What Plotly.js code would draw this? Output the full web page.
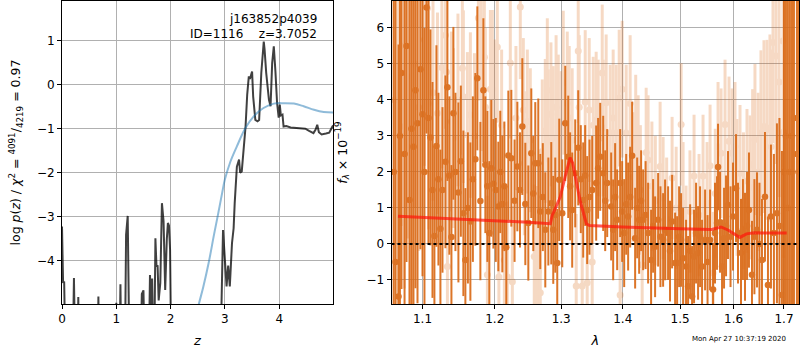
<!DOCTYPE html>
<html>
<head>
<meta charset="utf-8">
<script src="https://cdn.plot.ly/plotly-3.0.1.min.js"></script>
<style>html,body{margin:0;padding:0;background:#fff}#plot{width:800px;height:350px}</style>
</head>
<body>
<div id="plot"></div>
<script>
// ---- left panel: log p(z) and prior ----
const zP = [0, 0.02, 0.04, 0.06, 0.20, 0.22, 0.24, 0.29, 0.30, 0.31, 0.66, 0.67, 0.68, 0.99, 1.00, 1.01, 1.06, 1.076, 1.09, 1.16, 1.18, 1.21, 1.24, 1.45, 1.47, 1.50, 1.52, 1.60, 1.62, 1.64, 1.66, 1.68, 1.70, 1.72, 1.74, 1.76, 1.78, 1.81, 1.84, 1.87, 1.90, 1.93, 1.95, 1.97, 1.99, 2.01, 2.92, 2.965, 2.99, 3.03, 3.06, 3.09, 3.13, 3.16, 3.18, 3.22, 3.26, 3.28, 3.31, 3.35, 3.38, 3.41, 3.44, 3.46, 3.50, 3.52, 3.56, 3.60, 3.63, 3.67, 3.69, 3.715, 3.73, 3.76, 3.81, 3.84, 3.87, 3.90, 3.93, 3.96, 3.99, 4.01, 4.03, 4.06, 4.08, 4.13, 4.21, 4.30, 4.39, 4.48, 4.55, 4.58, 4.63, 4.67, 4.70, 4.73, 4.78, 4.86, 4.92, 4.98, 5.00];
const logP = [-3.22, -4.50, -4.47, -6, -6, -4.39, -6, -6, -4.82, -6, -6, -4.81, -6, -6, -4.95, -6, -6, -4.53, -6, -6, -3.41, -2.98, -6, -6, -4.75, -4.67, -6, -6, -4.32, -5.2, -4.40, -6, -6, -3.49, -4.13, -4.10, -4.90, -4.50, -2.69, -3.10, -4.66, -3.50, -3.14, -3.20, -3.75, -6, -6, -3.30, -3.75, -4.58, -4.11, -4.58, -3.60, -3.26, -2.69, -1.86, -1.70, -2.00, -1.97, -1.48, -0.95, -0.23, 0.19, 0.13, 0.30, -0.27, -0.80, -0.83, -0.80, 0.27, 0.57, 0.98, 0.80, 0.27, -0.34, -0.49, 0.49, 0.87, 0.30, -0.41, -0.75, -0.45, -0.70, -0.68, -0.95, -0.94, -0.97, -0.98, -1.00, -1.00, -1.05, -1.07, -1.10, -1.02, -0.91, -1.08, -1.13, -1.11, -1.09, -0.95, -0.93];
const zPrior = [2.40, 2.52, 2.60, 2.70, 2.80, 2.88, 2.95, 3.00, 3.10, 3.22, 3.38, 3.53, 3.71, 3.90, 4.08, 4.27, 4.45, 4.64, 4.82, 5.00];
const logPrior = [-5.6, -4.98, -4.60, -4.05, -3.40, -2.90, -2.45, -2.15, -1.75, -1.40, -0.98, -0.72, -0.53, -0.43, -0.42, -0.43, -0.49, -0.57, -0.62, -0.63];
const zTicks = [0, 1, 2, 3, 4];
const pTicks = [-4, -3, -2, -1, 0, 1];

// ---- right panel: spectrum (dark = first set, light = second set) ----
const lamD = [1.0625,1.0648,1.0687,1.0705,1.0725,1.0765,1.0790,1.0829,1.0855,1.0881,1.0907,1.0934,1.0973,1.1000,1.1026,1.1053,1.1079,1.1106,1.1133,1.1159,1.1186,1.1213,1.1240,1.1268,1.1308,1.1335,1.1362,1.1390,1.1417,1.1445,1.1486,1.1520,1.1555,1.1583,1.1618,1.1653,1.1688,1.1723,1.1751,1.1794,1.1837,1.1865,1.1894,1.1922,1.1950,1.1980,1.2015,1.2052,1.2080,1.2110,1.2140,1.2168,1.2198,1.2242,1.2290,1.2331,1.2370,1.2405,1.2450,1.2495,1.2540,1.2570,1.2600,1.2646,1.2676,1.2715,1.2753,1.2800,1.2845,1.2876,1.2907,1.2938,1.2969,1.3016,1.3063,1.3110,1.3140,1.3173,1.3221,1.3269,1.3310,1.3349,1.3380,1.3413,1.3450,1.3494,1.3559,1.3590,1.3625,1.3674,1.3707,1.3740,1.3806,1.3839,1.3872,1.3906,1.3956,1.3990,1.4024,1.4058,1.4091,1.4125,1.4159,1.4210,1.4245,1.4279,1.4313,1.4348,1.4390,1.4434,1.4486,1.4521,1.4556,1.4609,1.4650,1.4697,1.4732,1.4786,1.4820,1.4857,1.4911,1.4947,1.4983,1.5019,1.5055,1.5109,1.5146,1.5183,1.5219,1.5255,1.5292,1.5329,1.5366,1.5403,1.5459,1.5505,1.5552,1.5608,1.5645,1.5683,1.5702,1.5740,1.5778,1.5816,1.5854,1.5892,1.5940,1.5988,1.6046,1.6084,1.6142,1.6180,1.6220,1.6260,1.6298,1.6357,1.6405,1.6456,1.6505,1.6555,1.6615,1.6675,1.6735,1.6795,1.6856,1.6907,1.6958,1.7000,1.7040,1.7080,1.7122,1.7165,1.7205,1.7267,1.7300];
const fluxD = [2.0,-0.5,-1.46,3.0,4.75,2.5,5.5,1.22,3.2,2.70,4.27,3.35,4.85,3.6,2.0,6.57,3.5,2.96,1.5,0.22,2.72,1.8,0.42,1.5,2.28,4.35,1.9,0.19,3.63,2.0,1.43,2.3,0.85,-0.45,1.0,0.62,1.8,2.35,4.60,1.19,4.27,2.2,1.60,0.30,2.1,1.67,1.5,1.04,2.0,1.11,1.6,-0.09,2.46,2.38,1.2,2.15,1.5,3.26,1.11,0.58,2.52,1.4,2.24,2.24,0.90,1.3,0.39,0.9,1.13,0.39,0.80,-0.53,1.78,0.85,3.35,2.42,1.6,0.94,1.96,2.67,1.8,1.22,1.9,0.94,1.3,1.50,1.69,2.1,2.42,1.96,1.2,1.69,1.04,0.39,1.3,0.67,1.69,0.9,0.30,1.1,0.76,1.3,2.45,0.16,1.0,0.67,1.2,0.67,0.8,0.30,-0.45,0.5,-0.08,0.67,0.2,0.11,0.39,0.30,-0.2,0.62,-0.53,-0.53,0.2,0.11,-0.40,-0.63,-1.18,-0.2,-1.46,-0.35,0.3,-0.25,0.2,-0.63,0.11,-0.5,0.11,-1.27,0.3,0.58,2.14,0.6,-0.63,0.16,0.5,1.08,0.2,0.76,1.55,0.30,-0.25,0.4,-0.08,0.5,0.94,-0.86,0.2,0.39,0.0,-0.45,1.31,-1.14,0.76,0.3,0.85,0.5,-1.42,2.0,3.0,1.0,2.0,3.0,3.5,2.5,2.0];
const errD = [8,8,7,7,6,7,6,6,6,6,
  5.5,5,5,4.5,4,3.5,3.5,3,3,2.5,
  2.8,2.4,2.2,2.3,2.4,2.6,2.2,2.0,2.4,2.2,
  2.5,2.1,2.3,2.0,2.1,2.2,2.3,2.4,2.0,2.2,
  2.0,1.9,2.1,2.0,1.9,1.8,2.0,1.8,1.7,1.9,
  1.8,1.7,1.8,1.9,1.7,1.8,1.6,1.9,1.7,1.6,
  1.8,1.6,1.7,1.8,1.6,1.5,1.6,1.5,1.7,1.5,
  1.6,1.5,1.7,1.5,1.6,1.7,1.5,1.6,1.5,1.6,
  1.5,1.6,1.4,1.5,1.6,1.5,1.6,1.4,1.5,1.6,
  1.4,1.5,1.5,1.4,1.5,1.4,1.5,1.4,1.5,1.4,
  1.5,1.4,1.5,1.4,1.4,1.5,1.4,1.4,1.5,1.4,
  1.4,1.3,1.4,1.3,1.4,1.3,1.4,1.3,1.4,1.3,
  1.4,1.3,1.4,1.3,1.4,1.3,1.4,1.3,1.4,1.3,
  1.4,1.3,1.4,1.3,1.4,1.3,1.4,1.3,1.4,1.3,
  1.2,1.4,1.3,1.4,1.4,1.5,1.4,1.5,1.5,1.4,
  1.5,1.4,1.5,1.5,1.6,1.5,1.6,1.6,1.7,1.7,
  1.8,1.9,2.0,2.2,2.5,3,4,8,8,9,
  9,9,9,9,9];

const lamL = [1.0640,1.0680,1.0720,1.0764,1.0803,1.0855,1.0900,1.0950,1.1026,1.1066,1.1079,1.1140,1.1200,1.1260,1.1308,1.1322,1.1335,1.1390,1.1417,1.1480,1.1541,1.1555,1.1611,1.1653,1.1710,1.1766,1.1808,1.1851,1.1865,1.1894,1.1937,1.1965,1.1995,1.2037,1.2060,1.2100,1.2139,1.2183,1.2227,1.2257,1.2310,1.2375,1.2420,1.2435,1.2480,1.2525,1.2585,1.2615,1.2646,1.2676,1.2707,1.2753,1.2784,1.2799,1.2840,1.2876,1.2920,1.2954,1.2995,1.3032,1.3095,1.3126,1.3173,1.3237,1.3269,1.3285,1.3333,1.3381,1.3413,1.3446,1.3494,1.3511,1.3559,1.3592,1.3658,1.3674,1.3723,1.3790,1.3839,1.3890,1.3940,1.3956,1.3990,1.4058,1.4125,1.4176,1.4220,1.4262,1.4300,1.4331,1.4400,1.4434,1.4500,1.4560,1.4644,1.4697,1.4760,1.4857,1.4930,1.5019,1.5055,1.5109,1.5180,1.5255,1.5347,1.5421,1.5496,1.5552,1.5608,1.5650,1.5702,1.5759,1.5835,1.5911,1.5969,1.6026,1.6065,1.6123,1.6190,1.6259,1.6318,1.6370,1.6416,1.6480,1.6535,1.6595,1.6655,1.6715,1.6740,1.6776,1.6836,1.6900,1.6979,1.6995];
const fluxL = [4.0,2.0,5.5,3.26,4.65,2.70,5.0,3.8,5.67,6.55,3.90,4.2,3.63,4.9,5.80,4.78,-0.63,3.40,2.94,4.0,4.88,4.09,3.03,3.58,3.0,6.28,4.78,5.19,3.80,-0.86,4.30,4.30,3.58,5.47,-0.92,3.3,-0.45,-0.92,5.03,-1.05,3.5,6.58,3.72,2.24,3.4,2.88,-0.35,-0.39,-0.77,-1.36,2.57,3.14,4.27,2.85,3.6,2.94,3.8,3.26,2.8,4.48,3.90,3.50,2.88,-1.17,5.36,3.80,-1.17,3.94,-1.08,3.72,-0.50,3.30,3.44,3.22,4.75,3.22,3.92,3.08,3.50,3.08,4.05,-1.42,4.30,3.08,3.90,1.86,2.9,2.33,1.5,-0.58,2.54,2.33,1.6,1.2,2.15,1.27,0.7,1.83,1.0,3.32,1.13,-0.08,0.9,1.89,0.80,1.89,1.13,2.17,-0.81,1.4,2.70,2.52,3.32,2.85,2.52,2.70,1.57,1.96,1.2,1.75,1.57,2.2,2.90,2.0,3.08,3.26,3.17,3.22,2.70,5.60,5.22,4.5,5.64,3.11];
const errL = [5,5,5,4.5,4.5,4.5,4,4,3.5,3.5,
  3.5,3,2.8,2.8,2.6,2.6,2.6,2.5,2.5,2.4,
  2.4,2.4,2.3,2.3,2.3,2.3,2.2,2.2,2.2,2.2,
  2.2,2.2,2.1,2.1,2.1,2.1,2.1,2.1,2.1,2.1,
  2.0,2.0,2.0,2.0,2.0,2.0,2.0,2.0,2.0,2.0,
  2.0,2.0,2.0,2.0,2.0,2.0,2.0,2.0,2.0,2.0,
  2.0,2.0,2.0,2.0,2.0,2.0,2.0,2.0,2.0,2.0,
  1.9,1.9,1.9,1.9,1.9,1.9,1.9,1.9,1.9,1.9,
  1.9,1.9,1.9,1.9,1.9,1.8,1.8,1.8,1.8,1.8,
  1.8,1.8,1.8,1.8,1.8,1.7,1.7,1.7,1.7,1.7,
  1.7,1.7,1.7,1.7,1.7,1.7,1.7,1.7,1.7,1.8,
  1.8,1.8,1.8,1.8,1.8,1.8,1.9,1.9,1.9,2.0,
  2.0,2.1,2.1,2.2,2.3,2.4,2.5,2.6,2.7,2.8,
  3.0,3.2,3.5,3.5];

const lamM = [1.0680,1.1000,1.1500,1.2000,1.2500,1.2830,1.2860,1.2900,1.2985,1.3080,1.3140,1.3180,1.3240,1.3301,1.3400,1.3450,1.4000,1.4500,1.5000,1.5580,1.5700,1.5760,1.5900,1.6050,1.6120,1.6250,1.6400,1.6700,1.7055];
const fluxM = [0.77,0.74,0.69,0.64,0.60,0.56,0.80,0.95,1.31,2.00,2.40,2.25,1.75,1.18,0.56,0.51,0.47,0.44,0.42,0.40,0.45,0.47,0.38,0.24,0.18,0.28,0.31,0.30,0.30];
const lamEdges = [1.0597, 1.731];
const lamTicks = [1.1, 1.2, 1.3, 1.4, 1.5, 1.6, 1.7];
const lamTickText = ['1.1','1.2','1.3','1.4','1.5','1.6','1.7'];
const fTicks = [-1, 0, 1, 2, 3, 4, 5, 6];

const ORANGE = 'rgb(218,106,22)';
const FONT = 'DejaVu Sans';

const traces = [
  {x: zP, y: logP, xaxis: 'x', yaxis: 'y', mode: 'lines',
   line: {color: 'rgba(0,0,0,0.75)', width: 2}, hoverinfo: 'skip'},
  {x: zPrior, y: logPrior, xaxis: 'x', yaxis: 'y', mode: 'lines',
   line: {color: 'rgba(31,119,180,0.5)', width: 2, shape: 'spline'}, hoverinfo: 'skip'},
  {x: lamL, y: fluxL, xaxis: 'x2', yaxis: 'y2', mode: 'markers', opacity: 0.25,
   marker: {color: ORANGE, size: 7},
   error_y: {type: 'data', array: errL, visible: true, color: ORANGE, thickness: 3, width: 0}},
  {x: lamD, y: fluxD, xaxis: 'x2', yaxis: 'y2', mode: 'markers', opacity: 0.92,
   marker: {color: ORANGE, size: 6.5},
   error_y: {type: 'data', array: errD, visible: true, color: ORANGE, thickness: 2, width: 0}},
  {x: lamM, y: fluxM, xaxis: 'x2', yaxis: 'y2', mode: 'lines',
   line: {color: 'rgba(255,20,10,0.7)', width: 3}},
  {x: lamEdges, y: [0, 0], xaxis: 'x2', yaxis: 'y2', mode: 'lines',
   line: {color: 'black', width: 2, dash: 'dot'}}
];

const axisBase = {
  showline: true, mirror: true, linecolor: 'black', linewidth: 1,
  ticks: 'outside', ticklen: 4, tickwidth: 1, tickcolor: 'black',
  showgrid: true, gridcolor: '#b0b0b0', gridwidth: 1, zeroline: false,
  tickfont: {family: FONT, size: 12, color: 'black'}, fixedrange: true
};
const yDom = [46/350, 349/350];

const layout = {
  width: 800, height: 350, margin: {l: 0, r: 0, t: 0, b: 0},
  paper_bgcolor: 'white', plot_bgcolor: 'white', showlegend: false,
  font: {family: FONT, size: 12, color: 'black'},
  xaxis: Object.assign({}, axisBase, {domain: [62/800, 333/800], range: [0, 4.99], anchor: 'y',
    tickmode: 'array', tickvals: zTicks,
    title: {text: '<i>z</i>', font: {family: FONT, size: 13}, standoff: 10}}),
  yaxis: Object.assign({}, axisBase, {domain: yDom, range: [-4.98, 1.9], anchor: 'x',
    tickmode: 'array', tickvals: pTicks,
    title: {text: 'log <i>p</i>(<i>z</i>) / <i>χ</i><sup>2</sup> = <sup>4091</sup>/<sub>4219</sub> = 0.97', font: {family: FONT, size: 12.5}, standoff: 13}}),
  xaxis2: Object.assign({}, axisBase, {domain: [391.5/800, 799/800], type: 'log', range: [Math.log10(1.0597), Math.log10(1.731)], anchor: 'y2',
    tickmode: 'array', tickvals: lamTicks, ticktext: lamTickText,
    title: {text: '<i>λ</i>', font: {family: FONT, size: 13}, standoff: 10}}),
  yaxis2: Object.assign({}, axisBase, {domain: yDom, range: [-1.67, 6.75], anchor: 'x2',
    tickmode: 'array', tickvals: fTicks,
    title: {text: '<i>f</i><sub><i>λ</i></sub> × 10<sup>−19</sup>', font: {family: FONT, size: 12.5}, standoff: 16}}),
  annotations: [
    {text: 'j163852p4039', xref: 'paper', yref: 'paper', x: 319/800, y: (350-19)/350,
     xanchor: 'right', yanchor: 'middle', showarrow: false, font: {family: FONT, size: 12, color: 'black'}},
    {text: 'ID=1116\u00a0\u00a0\u00a0\u00a0z=3.7052', xref: 'paper', yref: 'paper', x: 319/800, y: (350-34)/350,
     xanchor: 'right', yanchor: 'middle', showarrow: false, font: {family: FONT, size: 12, color: 'black'}},
    {text: 'Mon Apr 27 10:37:19 2020', xref: 'paper', yref: 'paper', x: 788/800, y: (350-339)/350,
     xanchor: 'right', yanchor: 'middle', showarrow: false, font: {family: FONT, size: 7, color: 'black'}}
  ]
};

Plotly.newPlot('plot', traces, layout, {staticPlot: true, displayModeBar: false});
</script>
</body>
</html>
